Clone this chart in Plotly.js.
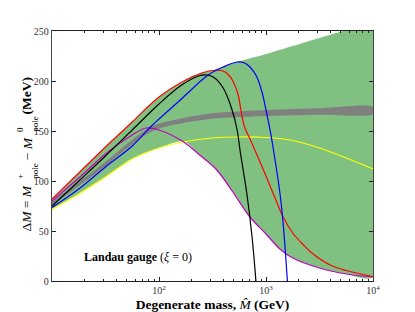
<!DOCTYPE html>
<html>
<head>
<meta charset="utf-8">
<script src="https://cdn.plot.ly/plotly-3.0.1.min.js"></script>
<style>html,body{margin:0;padding:0;background:#fff;}#chart{width:415px;height:312px;}</style>
</head>
<body>
<div id="chart"></div>
<script>
// Band (green) upper and lower edges
var bandUpperMass = [10, 17.8, 31.6, 56.2, 100, 178, 251, 316, 398, 537, 1000, 1778, 3162, 5248, 10000];
var bandUpperVal  = [82, 108, 134, 159, 184, 201, 208, 210.8, 214.5, 219, 227, 235, 243, 250, 259];
var bandLowerMass = [10, 17.8, 31.6, 56.2, 100, 170, 240, 347, 490, 708, 1000, 1349, 1778, 3162, 5623, 10000];
var bandLowerVal  = [71.5, 87, 104, 122, 133, 139.5, 126, 111, 89, 64, 47, 32, 23, 13, 7, 4];

// Gray band
var grayMass  = [10, 17.8, 31.6, 56.2, 89.1, 178, 316, 1000, 3162, 10000];
var grayUpper = [79.5, 99, 119.2, 141.3, 155.4, 163.5, 167.7, 171, 172.7, 174];
var grayLower = [75.5, 95, 114.8, 136.7, 150.6, 158.5, 162.3, 165, 166.3, 167];

// Curves
var yellowMass = [10, 17.8, 31.6, 56.2, 100, 178, 316, 562, 1000, 1778, 3162, 5623, 10000];
var yellowVal  = [71.5, 87, 104, 122, 133, 139.5, 143, 144, 143.5, 140.5, 133, 123, 112];

var magentaMass = [10, 17.8, 31.6, 56.2, 75.9, 100, 170, 240, 347, 490, 708, 1000, 1349, 1778, 3162, 5623, 10000];
var magentaVal  = [80, 103, 127, 146, 153, 151, 139, 126, 111, 89, 64, 47, 32, 23, 13, 7, 4];

var redMass = [10, 17.8, 31.6, 56.2, 100, 178, 251, 316, 398, 457, 501, 550, 589, 631, 708, 794, 1000, 1259, 1445, 1778, 2239, 2754, 3981, 5623, 10000];
var redVal  = [82, 108, 134, 159, 184, 201, 208, 210.5, 210, 205, 198, 186, 168, 154, 142, 130, 105, 79, 64, 48, 36, 27, 16, 10.5, 4.5];

var blueMass = [10, 17.8, 31.6, 56.2, 83.2, 100, 158, 288, 398, 537, 631, 708, 813, 912, 1000, 1096, 1175, 1349, 1445, 1585];
var blueVal  = [73.5, 92, 114, 135, 154, 162, 181, 206, 214, 219, 218, 214, 205, 190, 171, 150, 131, 88, 58, 0];

var blackMass = [10, 17.8, 31.6, 56.2, 100, 158, 234, 282, 331, 398, 479, 537, 575, 661, 741, 805];
var blackVal  = [75, 100, 125, 151, 177, 195, 205, 206, 203, 193, 172, 151, 129, 88, 44, 0];

var xMajorTicks = [10, 100, 1000, 10000];
var xMajorText = ['', '10<sup>2</sup>', '10<sup>3</sup>', '10<sup>4</sup>'];
var yTicks = [0, 50, 100, 150, 200, 250];

var minorTicks = [];
[10, 100, 1000].forEach(function (d) { for (var k = 2; k <= 9; k++) minorTicks.push(k * d); });

function poly(xa, ya, xb, yb) {
  return {x: xa.concat(xb.slice().reverse()), y: ya.concat(yb.slice().reverse())};
}
var band = poly(bandUpperMass, bandUpperVal, bandLowerMass, bandLowerVal);
var gband = poly(grayMass, grayUpper, grayMass, grayLower);

function line(x, y, c) {
  return {x: x, y: y, mode: 'lines', type: 'scatter', hoverinfo: 'skip',
          line: {color: c, width: 1.2, shape: 'spline', smoothing: 1}};
}

var data = [
  {x: band.x, y: band.y, mode: 'lines', fill: 'toself', fillcolor: '#80c080',
   line: {width: 0, shape: 'spline', smoothing: 0.8}, hoverinfo: 'skip'},
  {x: gband.x, y: gband.y, mode: 'lines', fill: 'toself', fillcolor: '#808080',
   line: {width: 0, color: '#808080', shape: 'spline', smoothing: 0.8}, hoverinfo: 'skip'},
  line(yellowMass, yellowVal, '#ffff00'),
  line(magentaMass, magentaVal, '#bf00bf'),
  line(redMass, redVal, '#ff0000'),
  line(blueMass, blueVal, '#0000ff'),
  line(blackMass, blackVal, '#000000')
];

var serif = 'Liberation Serif, DejaVu Serif, serif';

// y-axis title built from pieces so that super/subscripts stack
function yPiece(text, xp, yp, size) {
  return {xref: 'paper', yref: 'paper', x: xp, y: yp, xanchor: 'center', yanchor: 'bottom',
          textangle: -90, showarrow: false, text: text,
          font: {family: serif, size: size, color: '#000'}};
}

var layout = {
  width: 415, height: 312,
  margin: {l: 52, r: 42, t: 31, b: 31, pad: 0},
  paper_bgcolor: '#fff', plot_bgcolor: '#fff',
  showlegend: false,
  font: {family: serif, color: '#000'},
  xaxis: {
    type: 'log', range: [1, 4], showgrid: false, zeroline: false,
    showline: true, linecolor: '#222', linewidth: 1, mirror: 'allticks',
    ticks: 'inside', ticklen: 4, tickcolor: '#222',
    tickvals: xMajorTicks, ticktext: xMajorText,
    tickfont: {family: serif, size: 10, color: '#333'},
    minor: {tickvals: minorTicks, ticks: 'inside', ticklen: 2, tickcolor: '#222', showgrid: false},
    title: {text: '<b>Degenerate mass,</b> <i>M\u0302</i> <b>(GeV)</b>', font: {family: serif, size: 13.5, color: '#000'}, standoff: 4}
  },
  yaxis: {
    range: [0, 250], showgrid: false, zeroline: false,
    showline: true, linecolor: '#444', linewidth: 1.3, mirror: 'allticks',
    ticks: 'inside', ticklen: 4, tickcolor: '#222',
    tickvals: yTicks,
    tickfont: {family: serif, size: 10, color: '#333'}
  },
  annotations: [
    {xref: 'x', yref: 'y', x: 1.28, y: 24, xanchor: 'left', yanchor: 'middle', showarrow: false,
     text: '<b>Landau gauge</b> (<i>\u03be</i> = 0)', font: {family: serif, size: 12, color: '#000'}},
    yPiece('\u0394<i>M</i> = <i>M</i>', -0.078, 0.190, 13.5),
    yPiece('+', -0.100, 0.402, 9),
    yPiece('pole', -0.054, 0.400, 9),
    yPiece('\u2212 <i>M</i>', -0.078, 0.477, 13.5),
    yPiece('0', -0.100, 0.590, 9),
    yPiece('pole', -0.054, 0.588, 9),
    yPiece('<b>(MeV)</b>', -0.078, 0.660, 13.5)
  ]
};

Plotly.newPlot('chart', data, layout, {staticPlot: true, displayModeBar: false});
</script>
</body>
</html>
